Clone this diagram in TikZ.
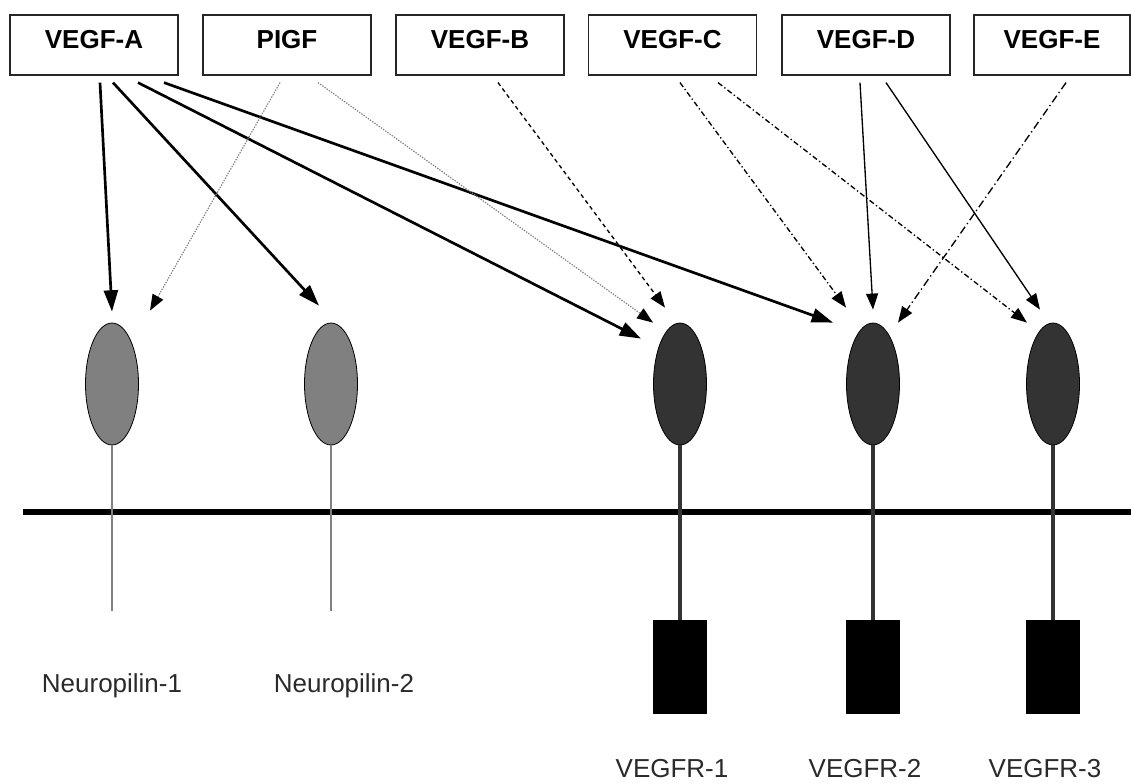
\documentclass[tikz,border=0pt]{standalone}
\usepackage{fontspec}
\setmainfont{Liberation Sans}
\usetikzlibrary{arrows.meta,shapes.geometric}
\definecolor{npgray}{HTML}{808080}
\definecolor{vrdark}{HTML}{333333}
\definecolor{txtgray}{HTML}{2A2A2A}
\tikzset{
  ligand/.style={draw=black!85, line width=0.9pt, minimum width=126pt, minimum height=45pt, inner sep=0pt, text height=14pt, text depth=9pt, font=\fontsize{19.5}{23}\selectfont\bfseries},
  receptor/.style={ellipse, draw=black, line width=0.6pt, minimum width=39.75pt, minimum height=91.5pt, inner sep=0pt},
  np/.style={receptor, fill=npgray},
  vr/.style={receptor, fill=vrdark},
  kinase/.style={draw, fill=black, minimum width=39.75pt, minimum height=70pt, inner sep=0pt},
  rlabel/.style={text=txtgray, font=\fontsize{19.5}{23}\selectfont},
  membrane/.style={line width=4pt},
  npstalk/.style={draw=npgray, line width=2pt},
  vrstalk/.style={draw=vrdark, line width=2.6pt},
  bigarrow/.style={-{Triangle[length=16pt,width=10.5pt]}, line width=2pt},
  thinarrow/.style={-{Triangle[length=12pt,width=9pt,color=black]}, line width=1pt},
  plgfarrow/.style={thinarrow, densely dotted, draw=gray, line width=0.9pt},
  bdash/.style={thinarrow, dash pattern=on 3pt off 2.5pt},
  cdash/.style={thinarrow, dash pattern=on 4pt off 2pt on 1pt off 2pt},
  edash/.style={thinarrow, dash pattern=on 6pt off 2.5pt on 1pt off 2.5pt}
}
\begin{document}
\begin{tikzpicture}[x=0.75pt, y=-0.75pt]
  \useasboundingbox (0,0) rectangle (1131,783);
  % growth factors
  \node[ligand] (vegfa) at (94,45) {VEGF-A};
  \node[ligand] (plgf) at (287,45) {PIGF};
  \node[ligand] (vegfb) at (480,45) {VEGF-B};
  \node[ligand] (vegfc) at (672.5,45) {VEGF-C};
  \node[ligand] (vegfd) at (866,45) {VEGF-D};
  \node[ligand, minimum width=117pt] (vegfe) at (1052,45) {VEGF-E};
  % receptors
  \node[np] (n1) at (112,384) {};
  \node[np] (n2) at (331,384) {};
  \node[vr] (r1) at (680,384) {};
  \node[vr] (r2) at (873,384) {};
  \node[vr] (r3) at (1053,384) {};
  \node[kinase] (k1) at (680,666.5) {};
  \node[kinase] (k2) at (873,666.5) {};
  \node[kinase] (k3) at (1053,666.5) {};
  \coordinate (memL) at (23,512);
  \coordinate (memR) at (1131,512);
  \coordinate (n1end) at (112,611);
  \coordinate (n2end) at (331,611);
  \draw[membrane] (memL) -- (memR);
  \draw[npstalk] (n1.south) -- (n1end);
  \draw[npstalk] (n2.south) -- (n2end);
  \draw[vrstalk] (r1.south) -- (k1.north);
  \draw[vrstalk] (r2.south) -- (k2.north);
  \draw[vrstalk] (r3.south) -- (k3.north);
  \node[rlabel] (n1lab) at (112,686) {Neuropilin-1};
  \node[rlabel] (n2lab) at (344,686) {Neuropilin-2};
  \node[rlabel] (r1lab) at (672,769) {VEGFR-1};
  \node[rlabel] (r2lab) at (865,769) {VEGFR-2};
  \node[rlabel] (r3lab) at (1045,769) {VEGFR-3};
  % binding
  \draw[bigarrow] ([shift={(6,7)}]vegfa.south) -- ([shift={(0,-11)}]n1.north);
  \draw[bigarrow] ([shift={(19,7)}]vegfa.south) -- ([shift={(-12,-17)}]n2.north);
  \draw[bigarrow] ([shift={(44,7)}]vegfa.south) -- ([shift={(-39,16)}]r1.north);
  \draw[bigarrow] ([shift={(70,7)}]vegfa.south) -- ([shift={(-40,0)}]r2.north);
  \draw[plgfarrow] ([shift={(-7,7)}]plgf.south) -- ([shift={(38,-12)}]n1.north);
  \draw[plgfarrow] ([shift={(31,7)}]plgf.south) -- ([shift={(-27,0)}]r1.north);
  \draw[bdash] ([shift={(18,7)}]vegfb.south) -- ([shift={(-15,-15)}]r1.north);
  \draw[cdash] ([shift={(7.5,7)}]vegfc.south) -- ([shift={(-27,-15)}]r2.north);
  \draw[cdash] ([shift={(45.5,7)}]vegfc.south) -- ([shift={(-26,0)}]r3.north);
  \draw[thinarrow] ([shift={(-6,7)}]vegfd.south) -- ([shift={(0,-13)}]r2.north);
  \draw[thinarrow] ([shift={(20,7)}]vegfd.south) -- ([shift={(-13,-13)}]r3.north);
  \draw[edash] ([shift={(14,7)}]vegfe.south) -- ([shift={(25,0)}]r2.north);
\end{tikzpicture}
\end{document}
